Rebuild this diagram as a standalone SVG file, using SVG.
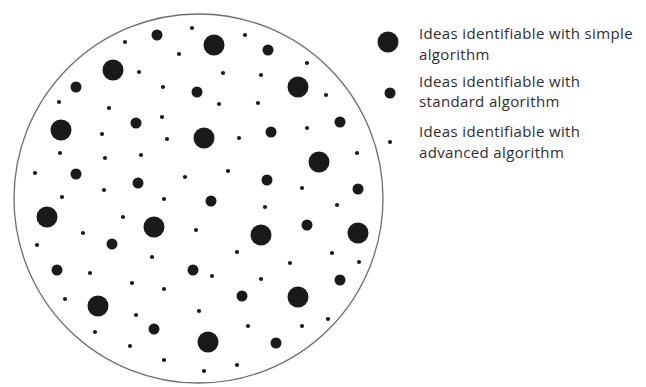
<svg xmlns="http://www.w3.org/2000/svg" width="646" height="387" viewBox="0 0 646 387">
<style>
.L{fill:#1a1a1a}
.bg{fill:#fff;stroke:#6e6e6e;stroke-width:1.3}
text{font-family:"Open Sans","Liberation Sans",sans-serif;font-size:15px;letter-spacing:0.35px;fill:#2e2e2e}
</style>
<defs>
<circle id="big" r="10.5" class="L"/>
<circle id="med" r="5.5" class="L"/>
<circle id="sm" r="2.1" class="L"/>
</defs>
<rect width="646" height="387" fill="#fff"/>
<g id="pool">
<circle class="bg" cx="198.5" cy="198.5" r="184.5"/>
<g id="large">
<use href="#big" x="113" y="70"/><use href="#big" x="214" y="45"/><use href="#big" x="298" y="87"/>
<use href="#big" x="61" y="130"/><use href="#big" x="204" y="138"/><use href="#big" x="319" y="162"/>
<use href="#big" x="47" y="217"/><use href="#big" x="154" y="227"/><use href="#big" x="261" y="235"/>
<use href="#big" x="358" y="233"/><use href="#big" x="98" y="306"/><use href="#big" x="298" y="297"/>
<use href="#big" x="208" y="342"/>
</g>
<g id="medium">
<use href="#med" x="157" y="35"/><use href="#med" x="268" y="50"/><use href="#med" x="76" y="87"/>
<use href="#med" x="197" y="92"/><use href="#med" x="136" y="123"/><use href="#med" x="340" y="122"/>
<use href="#med" x="271" y="132"/><use href="#med" x="76" y="174"/><use href="#med" x="138" y="183"/>
<use href="#med" x="267" y="180"/><use href="#med" x="358" y="189"/><use href="#med" x="211" y="201"/>
<use href="#med" x="307" y="225"/><use href="#med" x="112" y="244"/><use href="#med" x="57" y="270"/>
<use href="#med" x="193" y="270"/><use href="#med" x="340" y="280"/><use href="#med" x="242" y="296"/>
<use href="#med" x="154" y="329"/><use href="#med" x="276" y="343"/>
</g>
<g id="small">
<use href="#sm" x="192" y="28"/><use href="#sm" x="125" y="42"/><use href="#sm" x="245" y="35"/>
<use href="#sm" x="179" y="54"/><use href="#sm" x="139" y="72"/><use href="#sm" x="223" y="73"/>
<use href="#sm" x="261" y="75"/><use href="#sm" x="307" y="63"/><use href="#sm" x="163" y="87"/>
<use href="#sm" x="326" y="95"/><use href="#sm" x="59" y="102"/><use href="#sm" x="109" y="108"/>
<use href="#sm" x="219" y="104"/><use href="#sm" x="258" y="103"/><use href="#sm" x="162" y="117"/>
<use href="#sm" x="307" y="128"/><use href="#sm" x="102" y="134"/><use href="#sm" x="167" y="139"/>
<use href="#sm" x="239" y="138"/><use href="#sm" x="60" y="153"/><use href="#sm" x="105" y="158"/>
<use href="#sm" x="141" y="155"/><use href="#sm" x="357" y="153"/><use href="#sm" x="35" y="173"/>
<use href="#sm" x="185" y="177"/><use href="#sm" x="228" y="171"/><use href="#sm" x="104" y="190"/>
<use href="#sm" x="302" y="188"/><use href="#sm" x="62" y="197"/><use href="#sm" x="164" y="199"/>
<use href="#sm" x="265" y="207"/><use href="#sm" x="337" y="205"/><use href="#sm" x="123" y="217"/>
<use href="#sm" x="196" y="230"/><use href="#sm" x="83" y="233"/><use href="#sm" x="37" y="245"/>
<use href="#sm" x="237" y="252"/><use href="#sm" x="332" y="253"/><use href="#sm" x="152" y="257"/>
<use href="#sm" x="290" y="263"/><use href="#sm" x="359" y="262"/><use href="#sm" x="90" y="273"/>
<use href="#sm" x="212" y="276"/><use href="#sm" x="261" y="279"/><use href="#sm" x="132" y="283"/>
<use href="#sm" x="164" y="289"/><use href="#sm" x="65" y="299"/><use href="#sm" x="199" y="311"/>
<use href="#sm" x="136" y="315"/><use href="#sm" x="328" y="319"/><use href="#sm" x="95" y="332"/>
<use href="#sm" x="248" y="326"/><use href="#sm" x="302" y="326"/><use href="#sm" x="130" y="346"/>
<use href="#sm" x="164" y="360"/><use href="#sm" x="237" y="365"/><use href="#sm" x="204" y="371"/>
</g>
</g>
<g id="legend-simple">
<circle cx="388" cy="42" r="10.5" class="L"/>
<text x="419" y="39">Ideas identifiable with simple</text>
<text x="419" y="59.5">algorithm</text>
</g>
<g id="legend-standard">
<circle cx="390" cy="93" r="5.5" class="L"/>
<text x="419" y="86.5">Ideas identifiable with</text>
<text x="419" y="107">standard algorithm</text>
</g>
<g id="legend-advanced">
<circle cx="390" cy="142" r="2.1" class="L"/>
<text x="419" y="137">Ideas identifiable with</text>
<text x="419" y="157.5">advanced algorithm</text>
</g>
</svg>
